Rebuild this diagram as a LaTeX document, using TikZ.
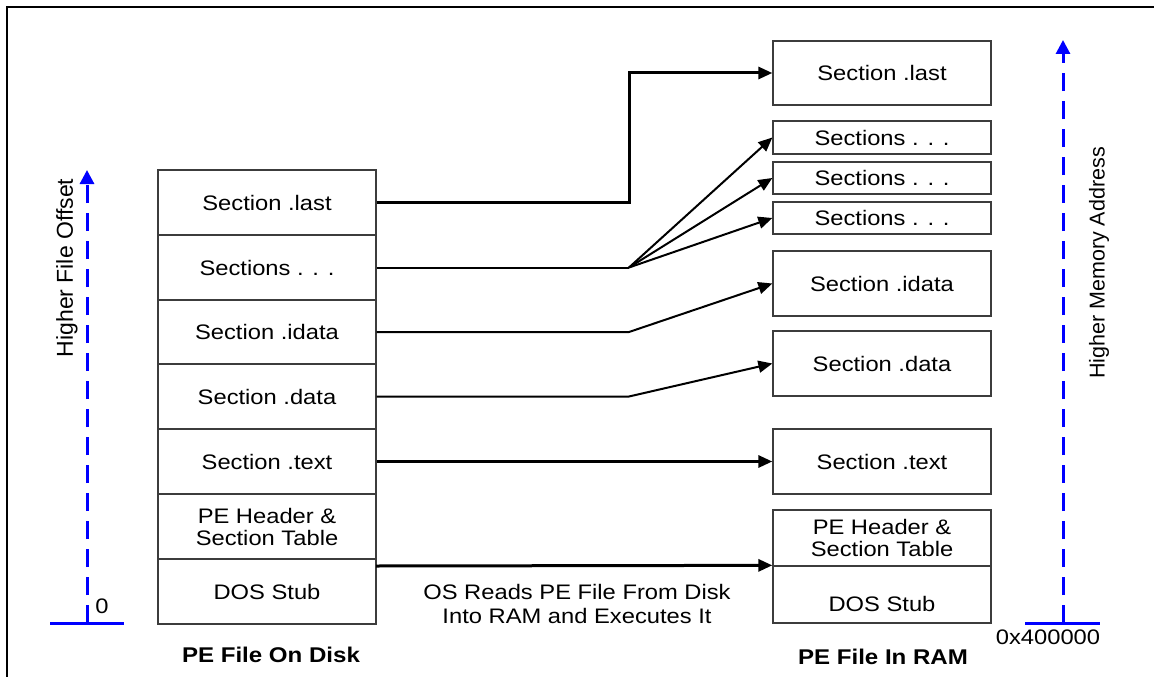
\documentclass[tikz,border=0pt]{standalone}
\usepackage{fontspec}
\setmainfont{Liberation Sans}[FakeStretch=1.13]
\newfontfamily\plainsans{Liberation Sans}
\usetikzlibrary{arrows.meta}
\definecolor{axisblue}{RGB}{0,0,255}
\definecolor{boxgray}{RGB}{60,60,60}
\begin{document}
\begin{tikzpicture}[x=1pt,y=-1pt,
  every node/.style={font=\fontsize{21}{26}\selectfont},
  lbox/.style={draw=boxgray,line width=1.3pt,minimum width=218pt,minimum height=65pt,inner sep=0pt,align=center},
  rbox/.style={draw=boxgray,line width=1.3pt,minimum width=218pt,inner sep=0pt,align=center},
  tip/.style={-{Triangle[length=14pt,width=12pt]}},
  thickconn/.style={line width=3pt,black},
  thinconn/.style={line width=2pt,black},
  axis/.style={axisblue,line width=3pt,dash pattern=on 18pt off 10pt,-{Triangle[length=14pt,width=14pt]}},
  axisbase/.style={axisblue,line width=3pt},
  axislabel/.style={rotate=90},
  caption/.style={font=\fontsize{21.3}{26}\selectfont\bfseries}]
\useasboundingbox (0,0) rectangle (1154,677);
% frame
\draw[line width=2.5pt] (7,677) -- (7,7) -- (1154,7);
% left stack
\node[lbox] (lLast) at (267,202.5) {Section .last};
\node[lbox] (lSec) at (267,267.5) {Sections . . .};
\node[lbox] (lIdata) at (267,332) {Section .idata};
\node[lbox] (lData) at (267,396.5) {Section .data};
\node[lbox] (lText) at (267,461.5) {Section .text};
\node[lbox] (lPe) at (267,526.5) {PE Header \&\\[-4pt]Section Table};
\node[lbox] (lDos) at (267,591.5) {DOS Stub};
\node[caption] (capL) at (271,655) {PE File On Disk};
% right stack
\node[rbox,minimum height=64pt] (rlast) at (882,73) {Section .last};
\node[rbox,minimum height=33pt] (rs1) at (882,137.5) {Sections . . .};
\node[rbox,minimum height=32pt] (rs2) at (882,178) {Sections . . .};
\node[rbox,minimum height=32pt] (rs3) at (882,218) {Sections . . .};
\node[rbox,minimum height=65pt] (ridata) at (882,283.5) {Section .idata};
\node[rbox,minimum height=65pt] (rdata) at (882,363.5) {Section .data};
\node[rbox,minimum height=65pt] (rtext) at (882,461.5) {Section .text};
\node[rbox,minimum height=56pt] (rpe) at (882,538) {PE Header \&\\[-4pt]Section Table};
\node[rbox,minimum height=57pt] (rdos) at (882,594.5) {};
\node (rdostext) at (882,604) {DOS Stub};
\node[caption] (capR) at (883,657) {PE File In RAM};
% connectors
\coordinate (bendLast) at (629,202.5);
\coordinate (fan) at (629,267.5);
\coordinate (bendIdata) at (629,332);
\coordinate (bendData) at (629,396.5);
\coordinate (dosout) at (376,566);
\draw[thickconn,tip] (lLast.east) -- (bendLast) |- (rlast.west);
\draw[thinconn] (lSec.east) -- (fan);
\draw[thinconn,tip] (fan) -- (rs1.west);
\draw[thinconn,tip] (fan) -- (rs2.west);
\draw[thinconn,tip] (fan) -- (rs3.west);
\draw[thinconn,tip] (lIdata.east) -- (bendIdata) -- (ridata.west);
\draw[thinconn,tip] (lData.east) -- (bendData) -- (rdata.west);
\draw[thickconn,tip] (lText.east) -- (rtext.west);
\draw[thickconn,tip] (dosout) -- (rdos.north west);
\node[align=center] (osText) at (577,604) {OS Reads PE File From Disk\\[-2pt]Into RAM and Executes It};
% left axis
\coordinate (lbase) at (87,623);
\coordinate (ltop) at (87,170);
\draw[axisbase] (50,623) -- (124,623);
\draw[axis] (lbase) -- (ltop);
\node (zero) at (102,606) {0};
\node[axislabel,font=\fontsize{23}{28}\plainsans] (lAxisLabel) at (67,268) {Higher File Offset};
% right axis
\coordinate (rbase) at (1063,623);
\coordinate (rtop) at (1063,40);
\draw[axisbase] (1025,623) -- (1100,623);
\draw[axis] (rbase) -- (rtop);
\node (addr) at (1048,637) {0x400000};
\node[axislabel,font=\fontsize{21.5}{26}\plainsans] (rAxisLabel) at (1099,263) {Higher Memory Address};
\end{tikzpicture}
\end{document}
